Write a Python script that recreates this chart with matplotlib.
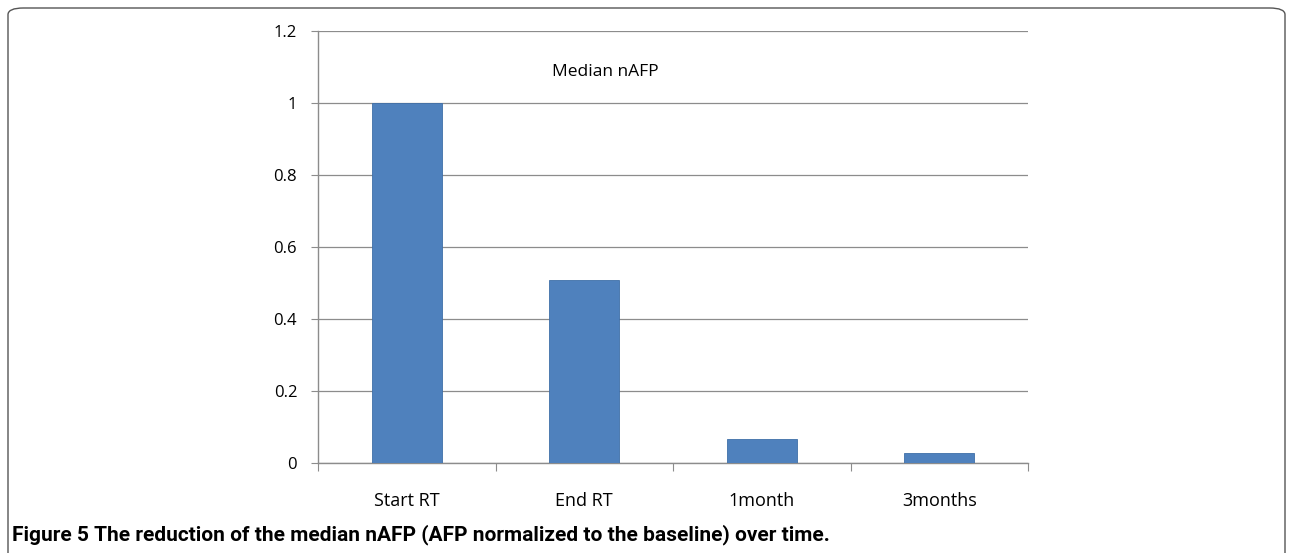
import matplotlib.pyplot as plt
import matplotlib.patches as patches
import numpy as np

# data
categories = ["Start RT", "End RT", "1month", "3months"]
median_nafp = [1.0, 0.508, 0.066, 0.027]
y_ticks = [0, 0.2, 0.4, 0.6, 0.8, 1, 1.2]
y_tick_labels = ["0", "0.2", "0.4", "0.6", "0.8", "1", "1.2"]

fig = plt.figure(figsize=(12.92, 5.53), dpi=100)

# rounded border round the whole figure
border = patches.FancyBboxPatch((8 / 1292, -0.05), 1277 / 1292, 1.0 - 8 / 553 + 0.05,
                                boxstyle="round,pad=0,rounding_size=0.012",
                                transform=fig.transFigure, fill=False,
                                edgecolor="#555555", linewidth=1.0)
fig.patches.append(border)

ax = fig.add_axes([318 / 1292, 90 / 553, 710 / 1292, 432 / 553])

x = np.arange(len(categories))
ax.bar(x, median_nafp, width=0.395, color="#4F81BD", edgecolor="#3F6FA8",
       linewidth=0.6, zorder=3)

ax.set_xlim(-0.5, len(categories) - 0.5)
ax.set_ylim(0, 1.2)

# gridlines like excel
ax.set_yticks(y_ticks)
ax.set_yticklabels(y_tick_labels, fontsize=12, family=["Open Sans", "DejaVu Sans"])
ax.yaxis.grid(True, color="#8c8c8c", linewidth=0.9, zorder=0)
ax.tick_params(axis="y", length=5, color="#8c8c8c", pad=10)

# category labels sit between the boundary ticks
ax.set_xticks(np.arange(-0.5, len(categories), 1.0))
ax.set_xticklabels([])
ax.set_xticks(x, minor=True)
ax.set_xticklabels(categories, minor=True, fontsize=13, family=["Open Sans", "DejaVu Sans"])
ax.tick_params(axis="x", which="major", length=6, color="#8c8c8c", direction="out")
ax.tick_params(axis="x", which="minor", length=0, pad=21)

for side in ["top", "right"]:
    ax.spines[side].set_visible(False)
for side in ["left", "bottom"]:
    ax.spines[side].set_color("#8c8c8c")
    ax.spines[side].set_linewidth(1.0)

ax.text(0.405, 0.905, "Median nAFP", transform=ax.transAxes, ha="center", va="center",
        fontsize=12.5, family=["Open Sans", "DejaVu Sans"])

# caption
fig.text(12 / 1292, 1 - 535 / 553,
         "Figure 5 The reduction of the median nAFP (AFP normalized to the baseline) over time.",
         fontsize=15, fontweight="bold", family=["Roboto", "DejaVu Sans"],
         va="center", ha="left")

fig.savefig("out.png", dpi=100)
